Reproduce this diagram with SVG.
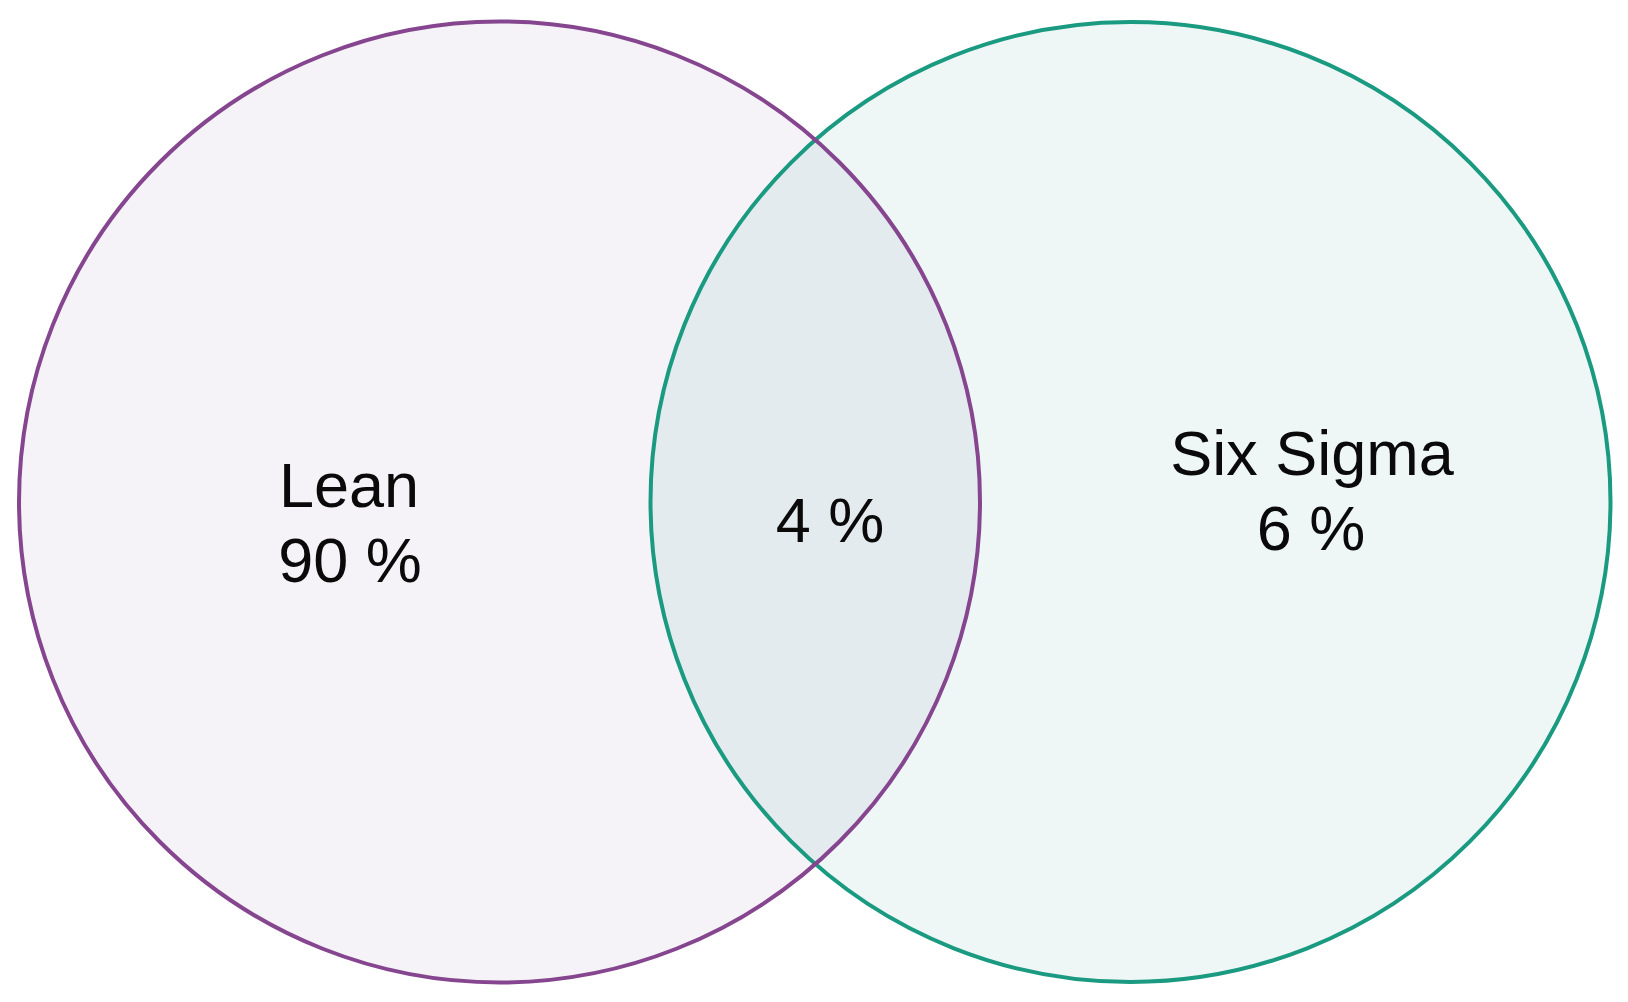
<svg xmlns="http://www.w3.org/2000/svg" width="1628" height="1002" viewBox="0 0 1628 1002">
<style>
text{font-family:"Liberation Sans",Arial,sans-serif;font-size:63px;fill:#0a0a0a;text-anchor:middle}
</style>
<rect width="1628" height="1002" fill="#ffffff"/>
<g id="lean">
<circle cx="499.5" cy="502" r="480.5" fill="#f5f3f7" stroke="none"/>
</g>
<g id="sixsigma">
<circle cx="1130.5" cy="502" r="480" fill="#1a9a80" fill-opacity="0.075" stroke="#1a9a80" stroke-width="4"/>
</g>
<g id="lean-outline">
<circle cx="499.5" cy="502" r="480.5" fill="none" stroke="#85458f" stroke-width="4"/>
</g>
<g id="labels">
<text x="349" y="507">Lean</text>
<text x="350" y="582">90 %</text>
<text x="830" y="542">4 %</text>
<text x="1312" y="475">Six Sigma</text>
<text x="1311" y="550">6 %</text>
</g>
</svg>
